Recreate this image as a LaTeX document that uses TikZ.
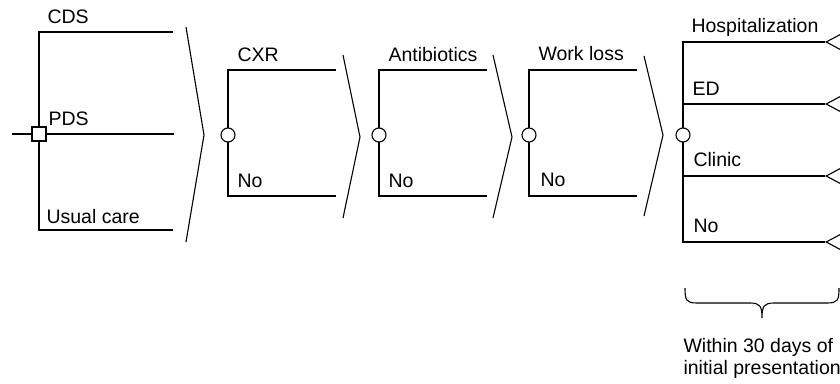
\documentclass[tikz,border=0pt]{standalone}
\usepackage{fontspec}
\setmainfont{Liberation Sans}
\usetikzlibrary{shapes.geometric}

\begin{document}
\begin{tikzpicture}[x = 1pt, y = -1pt, line width = 1.1pt]
\tikzstyle{DecStyle}=[shape = rectangle, draw, fill = white,
                      minimum size = 14pt, inner sep = 0pt]
\tikzstyle{ChanceStyle}=[shape = circle, draw, fill = white,
                         minimum size = 14pt, inner sep = 0pt]
\tikzstyle{TermStyle}=[shape = isosceles triangle, draw, shape border rotate = 180,
                       isosceles triangle apex angle = 56,
                       minimum width = 22pt, minimum height = 22pt, inner sep = 0pt]
\tikzstyle{LabStyle}=[anchor = base west, inner sep = 0pt,
                      font = \fontsize{19.5}{23}\selectfont]
\clip (0,0) rectangle (840,383);
\coordinate (in) at (12,134);
\coordinate (cds) at (173,32);
\coordinate (pds) at (174,134);
\coordinate (uc) at (173,230);
\coordinate (cxr) at (336,70);
\coordinate (cxrno) at (336,196);
\coordinate (abx) at (487,70);
\coordinate (abxno) at (487,196);
\coordinate (wl) at (637,70);
\coordinate (wlno) at (637,196);
\node[TermStyle, anchor = apex] (t1) at (825,42) {};
\node[TermStyle, anchor = apex] (t2) at (825,104) {};
\node[TermStyle, anchor = apex] (t3) at (825,176) {};
\node[TermStyle, anchor = apex] (t4) at (825,242) {};
\draw (in) -- (39,134);
\draw (39,134) |- (cds);
\draw (39,134) -- (pds);
\draw (39,134) |- (uc);
\draw (228,135) |- (cxr);
\draw (228,135) |- (cxrno);
\draw (379,135) |- (abx);
\draw (379,135) |- (abxno);
\draw (529,135) |- (wl);
\draw (529,135) |- (wlno);
\draw (683,135) |- (t1.apex);
\draw (683,135) |- (t2.apex);
\draw (683,135) |- (t3.apex);
\draw (683,135) |- (t4.apex);
\node[DecStyle] (dec) at (39,134) {};
\node[ChanceStyle] (c1) at (228,135) {};
\node[ChanceStyle] (c2) at (379,135) {};
\node[ChanceStyle] (c3) at (529,135) {};
\node[ChanceStyle] (c4) at (683,135) {};
\draw (186,27) -- (204,135) -- (186,242);
\draw (343,55) -- (360,137) -- (343,218);
\draw (493,55) -- (512,137) -- (493,218);
\draw (644,56) -- (663,135) -- (644,216);
\draw (685,288) .. controls (685,300) and (686,303) .. (697,303) -- (750,303)
      .. controls (760,303) and (762,306) .. (762,318)
      .. controls (762,306) and (764,303) .. (774,303) -- (827,303)
      .. controls (838,303) and (839,300) .. (839,288);
\node[LabStyle] (lcds) at (47,23) {CDS};
\node[LabStyle] (lpds) at (48,125) {PDS};
\node[LabStyle] (luc) at (46,223) {Usual care};
\node[LabStyle] (lcxr) at (237,61) {CXR};
\node[LabStyle] (lcxrno) at (237,187) {No};
\node[LabStyle] (labx) at (388,61) {Antibiotics};
\node[LabStyle] (labxno) at (388,187) {No};
\node[LabStyle] (lwl) at (538,60) {Work loss};
\node[LabStyle] (lwlno) at (540,186) {No};
\node[LabStyle] (lhosp) at (691,32) {Hospitalization};
\node[LabStyle] (led) at (692,95) {ED};
\node[LabStyle] (lclin) at (693,166) {Clinic};
\node[LabStyle] (lno) at (693,232) {No};
\node[LabStyle] (lwithin) at (683,352) {Within 30 days of};
\node[LabStyle] (linit) at (683,374) {initial presentation};
\end{tikzpicture}
\end{document}
